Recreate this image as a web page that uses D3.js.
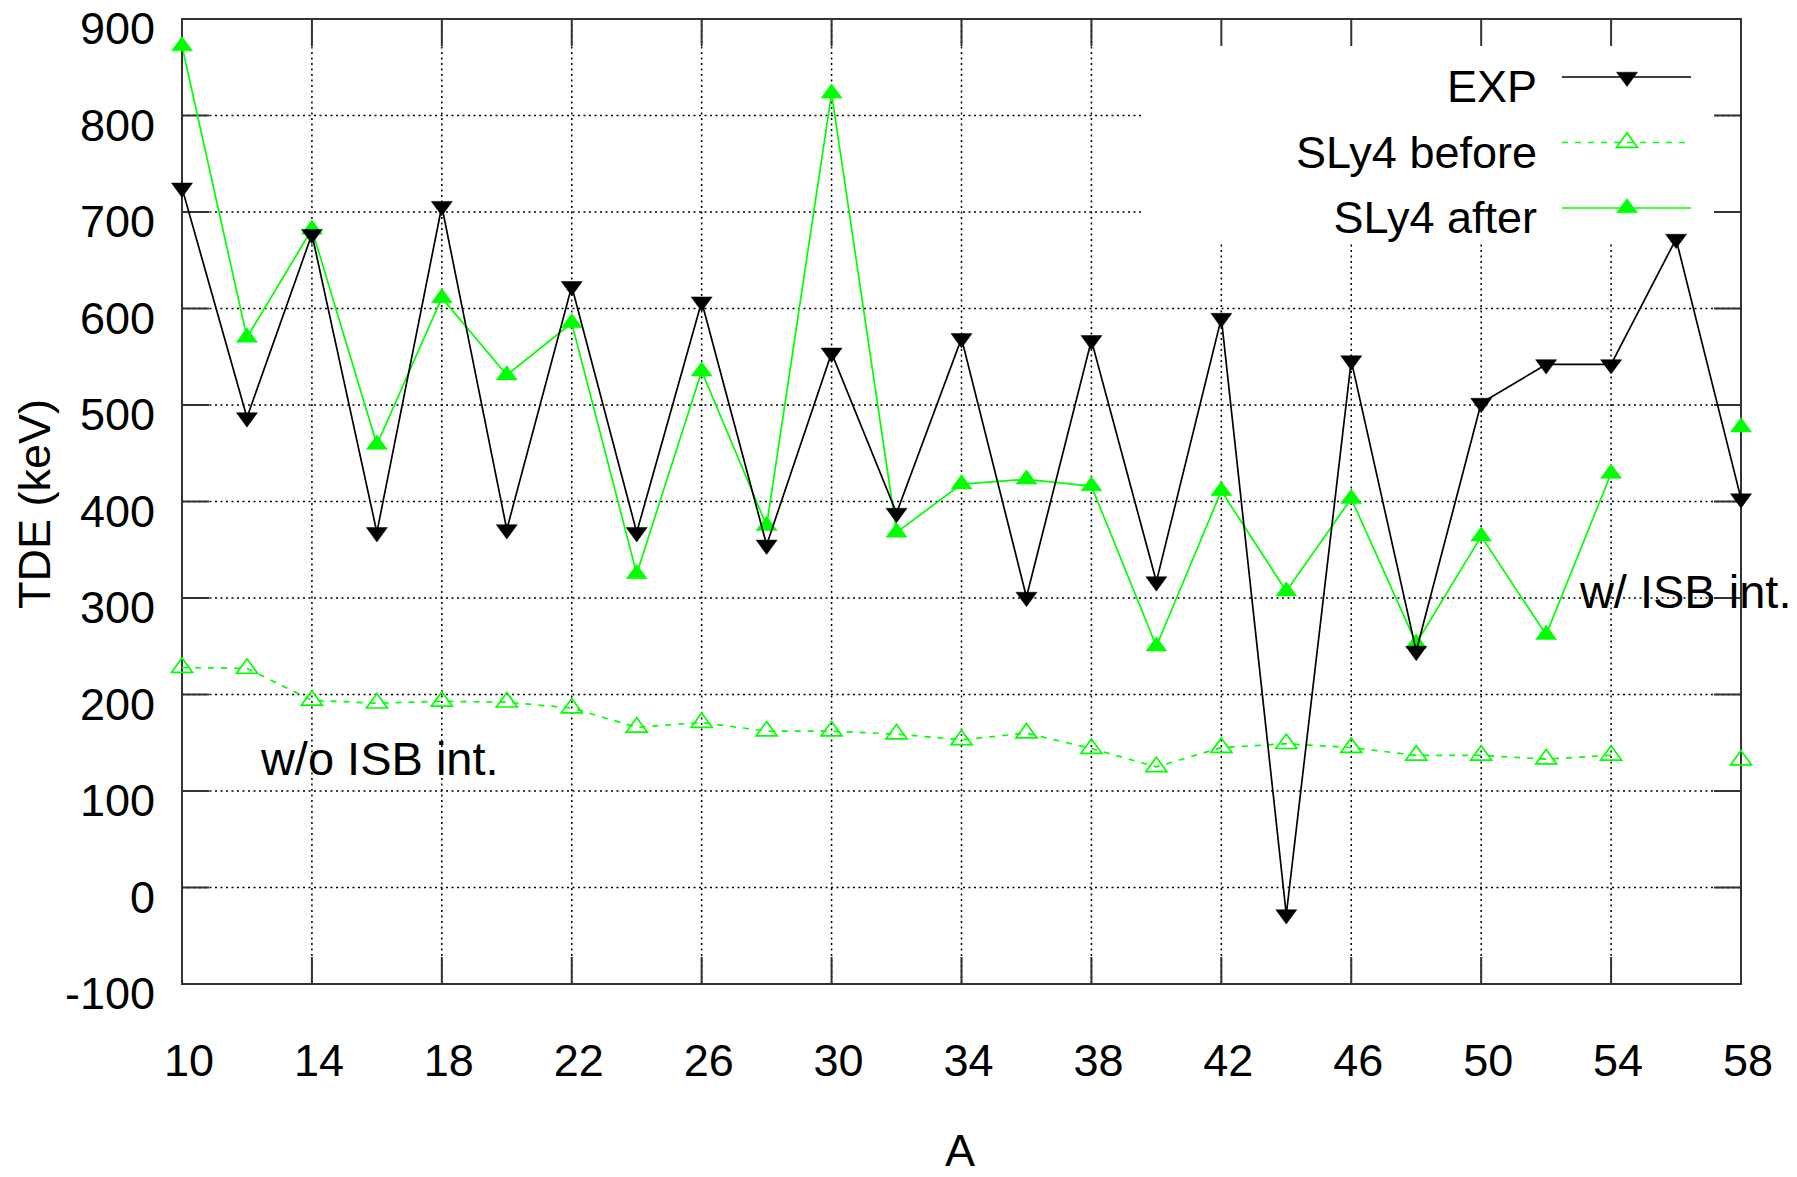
<!DOCTYPE html>
<html>
<head>
<meta charset="utf-8">
<script src="https://cdn.jsdelivr.net/npm/d3@7"></script>
<style>
  body { margin: 0; background: #fff; }
  text { font-family: "Liberation Sans", Arial, sans-serif; fill: #000; }
</style>
</head>
<body>
<div id="chart"></div>
<script>
// TDE vs mass number A: experiment and SLy4 before / after ISB interaction

const massNumbers = [10, 12, 14, 16, 18, 20, 22, 24, 26, 28, 30, 32, 34, 36, 38, 40, 42, 44, 46, 48, 50, 52, 54, 56, 58];
const expValues = [725, 487, 677, 368, 706, 371, 623, 368, 607, 355, 554, 388, 569, 301, 567, 317, 590, -28, 546, 245, 502, 542, 542, 672, 403];
const sly4Before = [228, 227, 194, 191, 193, 192, 186, 166, 171, 162, 162, 159, 153, 160, 144, 125, 145, 149, 145, 137, 137, 133, 137, null, 132];
const sly4After = [872, 570, 682, 459, 611, 531, 585, 325, 535, 375, 823, 368, 418, 423, 416, 250, 411, 307, 403, 253, 364, 262, 429, null, 477];
const xTicks = [10, 14, 18, 22, 26, 30, 34, 38, 42, 46, 50, 54, 58];
const yTicks = [-100, 0, 100, 200, 300, 400, 500, 600, 700, 800, 900];

(function() {
    const W = 1797, H = 1177;
    const margin = {top: 19, right: 56, bottom: 193, left: 182},
        width = W - margin.left - margin.right,
        height = H - margin.top - margin.bottom;
    const green = "#00ff00";
    const tickLen = 27;

    const root = d3.select("#chart")
        .append("svg")
        .attr("width", W)
        .attr("height", H);

    const svg = root.append("g")
        .attr("transform", `translate(${margin.left},${margin.top})`);

    const x = d3.scaleLinear().domain([10, 58]).range([0, width]);
    const y = d3.scaleLinear().domain([-100, 900]).range([height, 0]);

    // grid
    const grid = svg.append("g")
        .attr("stroke", "#000")
        .attr("stroke-width", 1.5)
        .attr("stroke-dasharray", "2,3.5");
    grid.selectAll(".gx")
        .data(xTicks.slice(1, -1))
        .enter().append("line")
        .attr("x1", d => x(d)).attr("x2", d => x(d))
        .attr("y1", 0).attr("y2", height);
    grid.selectAll(".gy")
        .data(yTicks.slice(1, -1))
        .enter().append("line")
        .attr("x1", 0).attr("x2", width)
        .attr("y1", d => y(d)).attr("y2", d => y(d));

    // opaque key area
    svg.append("rect")
        .attr("x", 960).attr("y", 0)
        .attr("width", 572).attr("height", 223)
        .attr("fill", "#fff");

    // ticks (inward, mirrored)
    const ticks = svg.append("g").attr("stroke", "#333").attr("stroke-width", 2);
    xTicks.forEach(t => {
        ticks.append("line").attr("x1", x(t)).attr("x2", x(t)).attr("y1", height).attr("y2", height - tickLen);
        ticks.append("line").attr("x1", x(t)).attr("x2", x(t)).attr("y1", 0).attr("y2", tickLen);
    });
    yTicks.forEach(t => {
        ticks.append("line").attr("x1", 0).attr("x2", tickLen).attr("y1", y(t)).attr("y2", y(t));
        ticks.append("line").attr("x1", width).attr("x2", width - tickLen).attr("y1", y(t)).attr("y2", y(t));
    });

    // border
    svg.append("rect")
        .attr("width", width).attr("height", height)
        .attr("fill", "none")
        .attr("stroke", "#333")
        .attr("stroke-width", 2);

    // tick labels
    svg.selectAll(".xl")
        .data(xTicks)
        .enter().append("text")
        .attr("x", d => x(d) + 7)
        .attr("y", height + 92)
        .attr("text-anchor", "middle")
        .attr("font-size", 45)
        .text(d => d);

    svg.selectAll(".yl")
        .data(yTicks)
        .enter().append("text")
        .attr("x", -27)
        .attr("y", d => y(d) + 25)
        .attr("text-anchor", "end")
        .attr("font-size", 45)
        .text(d => d);

    // axis labels
    root.append("text")
        .attr("x", 960).attr("y", 1166)
        .attr("text-anchor", "middle")
        .attr("font-size", 45)
        .text("A");

    root.append("text")
        .attr("transform", "translate(50,504) rotate(-90)")
        .attr("text-anchor", "middle")
        .attr("font-size", 45)
        .text("TDE (keV)");

    // series
    const toPts = vals => massNumbers.map((a, i) => ({a: a, v: vals[i]}));
    const line = d3.line()
        .defined(d => d.v != null)
        .x(d => x(d.a))
        .y(d => y(d.v));

    const up = "M0,-9.6L10.5,4.8L-10.5,4.8Z";
    const down = "M0,9.6L10.5,-4.8L-10.5,-4.8Z";

    const series = [
        {name: "SLy4 before", vals: sly4Before, color: green, dash: "6,7", shape: up, fill: "none"},
        {name: "SLy4 after", vals: sly4After, color: green, dash: null, shape: up, fill: green},
        {name: "EXP", vals: expValues, color: "#000", dash: null, shape: down, fill: "#000"}
    ];

    series.forEach(s => {
        const pts = toPts(s.vals);
        svg.append("path")
            .datum(pts)
            .attr("fill", "none")
            .attr("stroke", s.color)
            .attr("stroke-width", 1.7)
            .attr("stroke-dasharray", s.dash)
            .attr("d", line);
        svg.selectAll(null)
            .data(pts.filter(d => d.v != null))
            .enter().append("path")
            .attr("transform", d => `translate(${x(d.a)},${y(d.v)})`)
            .attr("d", s.shape)
            .attr("fill", s.fill)
            .attr("stroke", s.color)
            .attr("stroke-width", s.fill === "none" ? 1.7 : 0.5);
    });

    // key
    const key = [
        {name: "EXP", color: "#000", dash: null, shape: down, fill: "#000"},
        {name: "SLy4 before", color: green, dash: "6,7", shape: up, fill: "none"},
        {name: "SLy4 after", color: green, dash: null, shape: up, fill: green}
    ];
    key.forEach((k, i) => {
        const ky = 58 + i * 65.5;
        svg.append("text")
            .attr("x", 1355).attr("y", ky + 25)
            .attr("text-anchor", "end")
            .attr("font-size", 45)
            .text(k.name);
        svg.append("line")
            .attr("x1", 1380).attr("x2", 1509)
            .attr("y1", ky).attr("y2", ky)
            .attr("stroke", k.color)
            .attr("stroke-width", 1.7)
            .attr("stroke-dasharray", k.dash);
        svg.append("path")
            .attr("transform", `translate(1445,${ky})`)
            .attr("d", k.shape)
            .attr("fill", k.fill)
            .attr("stroke", k.color)
            .attr("stroke-width", k.fill === "none" ? 1.7 : 0.5);
    });

    // annotations
    svg.append("text")
        .attr("x", x(12.43)).attr("y", y(117))
        .attr("font-size", 47)
        .text("w/o ISB int.");

    svg.append("text")
        .attr("x", x(53.04)).attr("y", y(290))
        .attr("font-size", 47)
        .text("w/ ISB int.");
})();
</script>
</body>
</html>
